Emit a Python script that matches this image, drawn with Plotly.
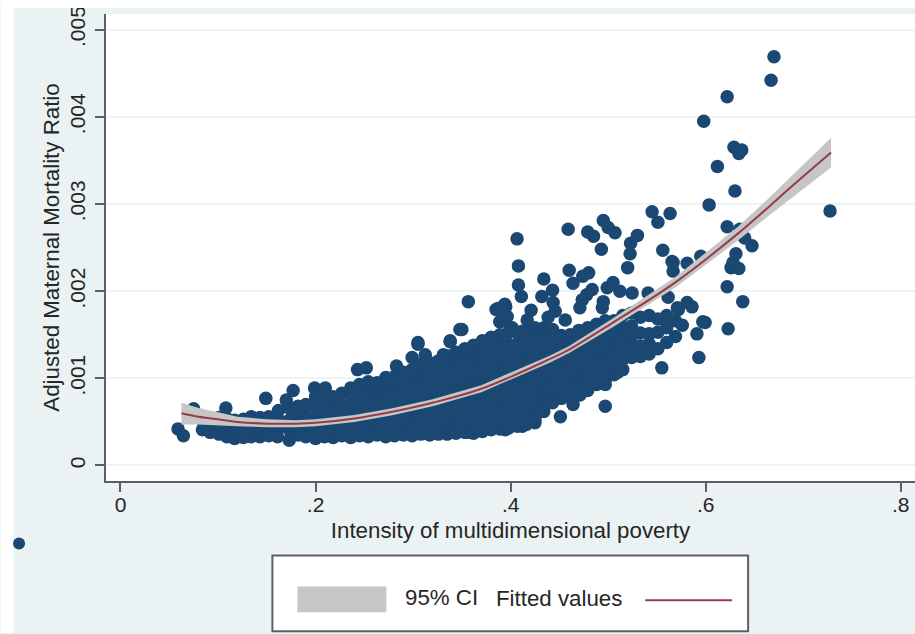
import plotly.graph_objects as go

# ---------- data ----------
outlier_x = [.059,.0645,.075,.108,.149,.177,.17,.162,.199,.21,.243,.252,.283,.305,.299,.3125,.338,.331,.348,.3566,.35,.338,.305,
             .385,.394,.389,.4,.4066,.408,.408,.411,.434,.443,.432,.459,.479,.485,.495,.5,.507,.53,.523,.5225,.493,.545,.5635,.551,
             .556,.5655,.5666,.52,.46,.464,.474,.48,.4836,.478,.4734,.471,.387,.395,.3965,.389,.421,.417,.4016,.412,.4436,.4457,.4385,.456,
             .505,.499,.495,.494,.5246,.541,.512,.5615,.571,.555,.497,.451,.464,
             .67,.667,.622,.598,.629,.637,.634,.612,.63,.6035,.7275,.622,.635,.64,.6475,.631,.626,.634,.628,.622,.638,
             .595,.581,.5666,.581,.586,.572,.597,.623,.593,.591,.5994,.576,.51,.497,.471,.4426,.425,.412,.3945,.3566]
outlier_y = [.00042,.00034,.00065,.00066,.00077,.00086,.00075,.00063,.00089,.00089,.0011,.00112,.00114,.00139,.00124,.00127,.00142,.00127,.00156,.00188,.00156,.00143,.00141,
             .00179,.00185,.00165,.00158,.0026,.00229,.00207,.00194,.00214,.00201,.00194,.00271,.00268,.00263,.00281,.00273,.00267,.00264,.00255,.00243,.00248,.00291,.00289,.00279,
             .00247,.00234,.00223,.00227,.00224,.00209,.00217,.00221,.00202,.00196,.0019,.00181,.0018,.00182,.00171,.00165,.00178,.00167,.00158,.00154,.00187,.00177,.0017,.00167,
             .0021,.00204,.00188,.00181,.00198,.00198,.002,.00193,.00181,.00112,.00068,.00056,.0007,
             .00469,.00442,.00423,.00395,.00365,.00362,.00358,.00343,.00315,.00299,.00292,.00274,.00271,.00261,.00252,.00243,.00227,.00226,.00233,.00205,.00188,
             .0024,.00232,.00233,.00187,.00182,.00179,.00165,.00157,.00124,.00151,.00164,.00161,.00107,.00093,.00081,.00073,.00049,.00045,.00041,.00038]

# dense body of the cloud: each row holds one x and the y readings at that x
body_columns = [
 (.084,[.00041,.00052]), (.092,[.00038,.00049]), (.101,[.00036,.00046,.00055]), (.109,[.00033,.00043,.00054]),
 (.117,[.00031,.00042,.00052]), (.126,[.00032,.00041,.00053]), (.134,[.00033,.00044,.00056]), (.143,[.00033,.00045,.00055]),
 (.152,[.00034,.00044,.00056]), (.161,[.00033,.00042,.00054]), (.173,[.00029,.00041,.00052,.00066]), (.182,[.00035,.00044,.00056,.00068]),
 (.19,[.00033,.00045,.00057,.0007]), (.2,[.00031,.00042,.00055,.00067,.00079]), (.209,[.00033,.00046,.00058,.0007,.00081]),
 (.218,[.00032,.00043,.00055,.00066,.00079]), (.227,[.00034,.00045,.00057,.00069,.00083]), (.236,[.00032,.00044,.00056,.00068,.0008,.00089]),
 (.245,[.00034,.00046,.00058,.0007,.00082,.00093]), (.254,[.00033,.00044,.00055,.00067,.00079,.0009,.00096]),
 (.263,[.00035,.00047,.00059,.00071,.00083,.00095]), (.272,[.00033,.00045,.00057,.00069,.00081,.00093,.00101]),
 (.281,[.00034,.00046,.00058,.0007,.00082,.00094,.00102]), (.29,[.00035,.00047,.0006,.00072,.00084,.00096,.00107]),
 (.299,[.00034,.00045,.00057,.00069,.00081,.00093,.00105,.0011]), (.308,[.00036,.00048,.0006,.00072,.00084,.00096,.00108,.00116]),
 (.317,[.00035,.00047,.00059,.00071,.00083,.00095,.00107,.00118]), (.326,[.00036,.00048,.0006,.00072,.00084,.00096,.00108,.0012]),
 (.335,[.00036,.00047,.00059,.00071,.00083,.00095,.00107,.00119,.00126]), (.344,[.00037,.00049,.00061,.00073,.00085,.00097,.00109,.00121,.0013]),
 (.353,[.00038,.0005,.00062,.00074,.00086,.00098,.0011,.00122,.00134]), (.362,[.00037,.00049,.00061,.00073,.00085,.00097,.00109,.00121,.00133,.00138]),
 (.371,[.00039,.00051,.00063,.00075,.00087,.00099,.00111,.00123,.00135,.00143]), (.38,[.00041,.00053,.00065,.00077,.00089,.00101,.00113,.00125,.00137,.00147]),
 (.389,[.00042,.00054,.00066,.00078,.0009,.00102,.00114,.00126,.00138,.0015]), (.398,[.00043,.00055,.00067,.00079,.00091,.00103,.00115,.00127,.00139,.00153]),
 (.407,[.00045,.00056,.00068,.0008,.00092,.00104,.00116,.00128,.0014,.00152]), (.416,[.00047,.00059,.00071,.00083,.00095,.00107,.00119,.00131,.00143,.00155]),
 (.425,[.00053,.00065,.00077,.00089,.00101,.00113,.00125,.00137,.00149,.00158]), (.434,[.00062,.00074,.00086,.00098,.0011,.00122,.00134,.00146,.00158]),
 (.443,[.00072,.00084,.00096,.00108,.0012,.00132,.00144,.00156]), (.452,[.00077,.00089,.00101,.00113,.00125,.00137,.00149]),
 (.461,[.00079,.00091,.00103,.00115,.00127,.00139,.0015]), (.47,[.00083,.00095,.00107,.00119,.00131,.00143,.00155]),
 (.479,[.00086,.00098,.0011,.00122,.00134,.00146,.00158]), (.488,[.00093,.00105,.00117,.00129,.00141,.00153,.00162]),
 (.497,[.00098,.0011,.00122,.00134,.00146,.00158,.00166]), (.506,[.00104,.00116,.00128,.0014,.00152,.00166]),
 (.515,[.0011,.00122,.00134,.00146,.00158,.00172]), (.524,[.00124,.00136,.00148,.0016,.00175]), (.533,[.00125,.00137,.00152,.0017]),
 (.542,[.00128,.0014,.00151,.00172]), (.551,[.00134,.00153,.00168]), (.56,[.00141,.00158,.00172]), (.569,[.00148,.00166]),
]

fit_x = [.0625,.08,.1,.12,.15,.18,.2,.24,.28,.32,.37,.44,.46,.505,.57,.633,.664,.684,.7285]
fit_y = [.0006,.00056,.00053,.0005,.00048,.00048,.00049,.00054,.00062,.00072,.00088,.00122,.00133,.00164,.00211,.00266,.00296,.00316,.00359]
ci_hi = [.00072,.00066,.00061,.00056,.00053,.00052,.00053,.00058,.00066,.00076,.00092,.00126,.00137,.00169,.00217,.00274,.00306,.00328,.00376]
ci_lo = [.00047,.00047,.00046,.00045,.00044,.00044,.00045,.0005,.00058,.00068,.00084,.00118,.00129,.00159,.00205,.00258,.00286,.00304,.00342]

x_ticks = [0,.2,.4,.6,.8]
x_labels = ["0",".2",".4",".6",".8"]
y_ticks = [0,.001,.002,.003,.004,.005]
y_labels = ["0",".001",".002",".003",".004",".005"]

# ---------- layout constants (page pixels) ----------
W, H = 915, 634
L, R, T, B = 105.5, 915, 14, 481.5
def px(v): return (v-L)/(R-L)
def py(v): return 1-(v-T)/(B-T)
BG = "#eaf2f3"; NAVY = "#1a4872"; AX = "#5c6064"; BAND = "#c6c6c6"; LINE = "#963c48"
FONT = "Liberation Sans"; TXT = "#262626"

cloud_x = outlier_x + [c[0] for c in body_columns for _ in c[1]]
cloud_y = outlier_y + [v for c in body_columns for v in c[1]]

fig = go.Figure()
fig.add_trace(go.Scatter(x=cloud_x, y=cloud_y, mode="markers", name="Observed",
                         marker=dict(color=NAVY, size=13.5, line=dict(width=0)), showlegend=False))
fig.add_trace(go.Scatter(x=fit_x+fit_x[::-1], y=ci_hi+ci_lo[::-1], mode="lines", fill="toself", fillcolor=BAND,
                         line=dict(width=0), name="95% CI", showlegend=False))
fig.add_trace(go.Scatter(x=fit_x, y=fit_y, mode="lines", line=dict(color=LINE, width=2, shape="spline"),
                         name="Fitted values", showlegend=False))

def rect(x0,y0,x1,y1,**kw):
    return dict(type="rect", xref="paper", yref="paper", x0=px(x0), x1=px(x1), y0=py(y0), y1=py(y1), **kw)
shapes = [
    rect(0,0,13,H, fillcolor="white", line_width=0),
    rect(0,0,W,8, fillcolor="white", line_width=0),
    rect(272,556,748,632, fillcolor="white", line=dict(color=AX, width=2)),
    rect(297,587,386,613, fillcolor=BAND, line_width=0),
    dict(type="line", xref="paper", yref="paper", x0=px(645), x1=px(732), y0=py(601), y1=py(601), line=dict(color=LINE, width=2)),
    dict(type="circle", xref="paper", yref="paper", x0=px(12.5), x1=px(24.5), y0=py(538), y1=py(550), fillcolor=NAVY, line_width=0),
]
def note(text, x, y):
    return dict(text=text, xref="paper", yref="paper", x=px(x), y=py(y), xanchor="left", yanchor="middle",
                showarrow=False, font=dict(family=FONT, size=22.3, color=TXT))
fig.update_layout(
    width=W, height=H, margin=dict(l=L, r=W-R, t=T, b=H-B, autoexpand=False),
    paper_bgcolor=BG, plot_bgcolor="white", showlegend=False,
    shapes=shapes, annotations=[note("95% CI",403,598), note("Fitted values",494,599)],
    font=dict(family=FONT, color=TXT),
    xaxis=dict(range=[-.01486,.8146], tickvals=x_ticks, ticktext=x_labels, ticks="outside", ticklen=9, tickwidth=1.5,
               tickcolor=AX, showline=True, linecolor=AX, linewidth=2, showgrid=False, zeroline=False,
               tickfont=dict(size=21, family=FONT, color=TXT), ticklabeloverflow="allow", ticklabelstandoff=-5,
               title=dict(text="Intensity of multidimensional poverty", font=dict(size=22.3, family=FONT, color=TXT), standoff=7)),
    yaxis=dict(range=[-.000178,.00518], tickvals=y_ticks, ticktext=y_labels, ticks="outside", ticklen=9, tickwidth=1.5,
               tickcolor=AX, showline=True, linecolor=AX, linewidth=2, showgrid=True, gridcolor="#eef3f5", gridwidth=1.5,
               zeroline=False, tickangle=-90, tickfont=dict(size=21, family=FONT, color=TXT), ticklabeloverflow="allow", ticklabelstandoff=2,
               title=dict(text="Adjusted Maternal Mortality Ratio", font=dict(size=22.3, family=FONT, color=TXT), standoff=0)),
)
fig.write_html("out.html", default_width="915px", default_height="634px", config=dict(displayModeBar=False),
               post_script="document.body.style.margin='0';document.documentElement.style.overflow='hidden';")
